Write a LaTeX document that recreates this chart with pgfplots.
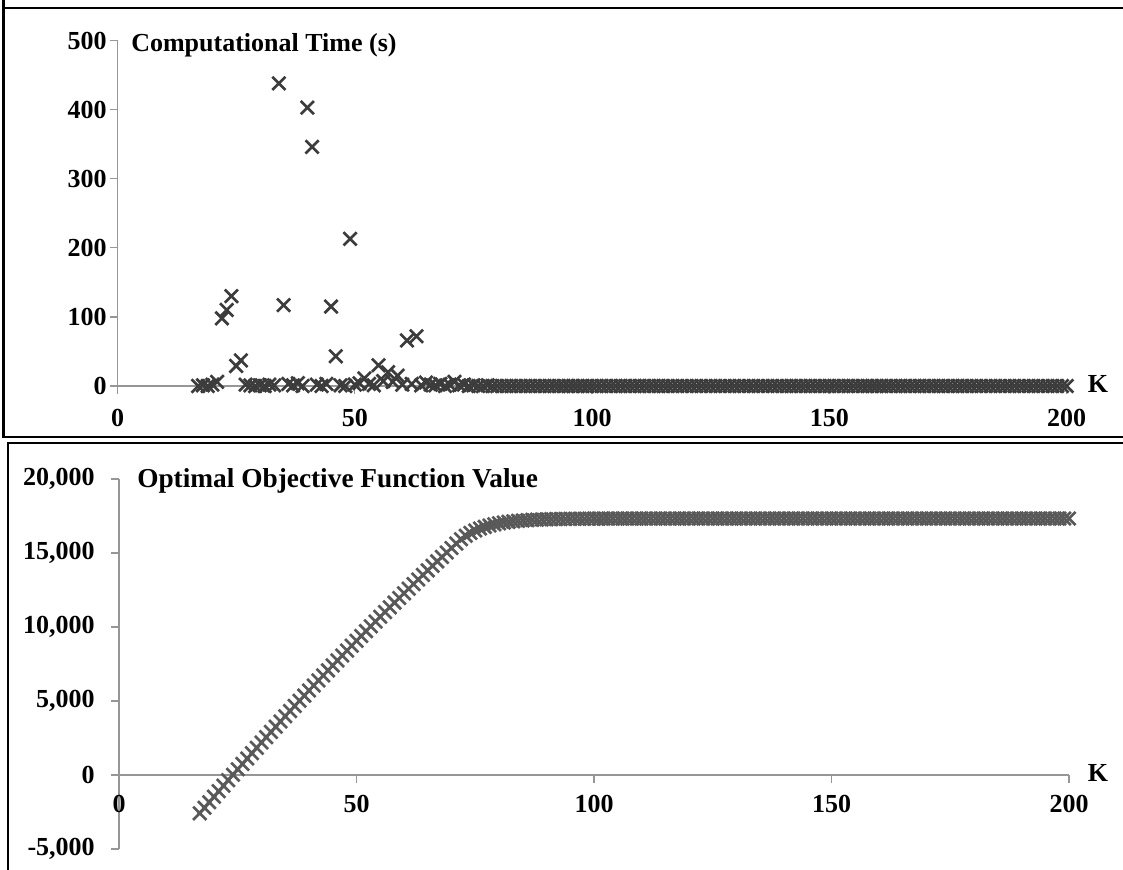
\documentclass[border=0pt]{standalone}
\usepackage{pgfplots}
\pgfplotsset{compat=1.18}
\usepackage{fontspec}
\setmainfont{Liberation Serif}
\definecolor{axisgray}{RGB}{150,150,150}
\definecolor{topmark}{RGB}{60,60,60}
\definecolor{botmark}{RGB}{89,89,89}
\newcommand{\lbl}{\bfseries\fontsize{19.5}{22}\selectfont}
\begin{document}
\begin{tikzpicture}
\useasboundingbox (0,0) rectangle (842.25pt,651.75pt);
\clip (0,0) rectangle (842.25pt,651.75pt);
% frames
\draw[line width=1.8pt] (2.6pt,700pt) -- (2.6pt,324pt) -- (900pt,324pt);
\draw[line width=1.8pt] (2.6pt,645.75pt) -- (900pt,645.75pt);
\draw[line width=1.8pt] (6pt,-20pt) -- (6pt,319.5pt) -- (900pt,319.5pt);
% top axis
\begin{axis}[
  at={(88.125pt,362.25pt)}, anchor=south west,
  scale only axis, width=711.9pt, height=259.1pt,
  xmin=0, xmax=200, ymin=0, ymax=500,
  axis lines=middle, axis line style={-, draw=axisgray, line width=1pt},
  xtick={0,50,100,150,200}, xticklabels={0,50,100,150,200},
  ytick={0,100,200,300,400,500}, yticklabels={0,100,200,300,400,500},
  tick align=outside, major tick length=6pt,
  tick style={draw=axisgray, line width=1pt},
  hide obscured x ticks=false, hide obscured y ticks=false,
  clip=false,
  ticklabel style={font=\lbl},
  xticklabel style={anchor=north, inner sep=0pt, yshift=-11pt},
  yticklabel style={anchor=east, inner sep=0pt, xshift=-2pt},
]
\addplot[only marks, mark=x, mark size=7pt, mark options={draw=topmark, line width=2pt}] table {
17 0
18 1
19 0
20 2
21 6
22 98
23 110
24 130
25 29
26 37
27 2
28 1
29 0
30 1
31 0
32 2
33 1
34 438
35 117
36 3
37 1
38 4
39 0
40 403
41 346
42 2
43 0
44 3
45 115
46 43
47 1
48 0
49 213
50 2
51 4
52 11
53 3
54 1
55 30
56 7
57 20
58 6
59 15
60 2
61 66
62 3
63 72
64 1
65 5
66 2
67 1
68 3
69 0
70 2
71 6
72 1
73 2
74 0
75 1
76 0
77 0
78 1
79 0
80 0
81 0
82 0
83 0
84 0
85 0
86 0
87 0
88 0
89 0
90 0
91 0
92 0
93 0
94 0
95 0
96 0
97 0
98 0
99 0
100 0
101 0
102 0
103 0
104 0
105 0
106 0
107 0
108 0
109 0
110 0
111 0
112 0
113 0
114 0
115 0
116 0
117 0
118 0
119 0
120 0
121 0
122 0
123 0
124 0
125 0
126 0
127 0
128 0
129 0
130 0
131 0
132 0
133 0
134 0
135 0
136 0
137 0
138 0
139 0
140 0
141 0
142 0
143 0
144 0
145 0
146 0
147 0
148 0
149 0
150 0
151 0
152 0
153 0
154 0
155 0
156 0
157 0
158 0
159 0
160 0
161 0
162 0
163 0
164 0
165 0
166 0
167 0
168 0
169 0
170 0
171 0
172 0
173 0
174 0
175 0
176 0
177 0
178 0
179 0
180 0
181 0
182 0
183 0
184 0
185 0
186 0
187 0
188 0
189 0
190 0
191 0
192 0
193 0
194 0
195 0
196 0
197 0
198 0
199 0
200 0
};
\end{axis}
% bottom axis
\begin{axis}[
  at={(89.25pt,15pt)}, anchor=south west,
  scale only axis, width=712.5pt, height=277.5pt,
  xmin=0, xmax=200, ymin=-5000, ymax=20000,
  axis lines=middle, axis line style={-, draw=axisgray, line width=1pt},
  xtick={0,50,100,150,200}, xticklabels={0,50,100,150,200},
  ytick={-5000,0,5000,10000,15000,20000},
  yticklabels={{-5,000},0,{5,000},{10,000},{15,000},{20,000}},
  scaled y ticks=false,
  tick align=outside, major tick length=6pt,
  tick style={draw=axisgray, line width=1pt},
  hide obscured x ticks=false, hide obscured y ticks=false,
  clip=false,
  ticklabel style={font=\lbl},
  xticklabel style={anchor=north, inner sep=0pt, yshift=-9pt},
  yticklabel style={anchor=east, inner sep=0pt, xshift=-12pt},
]
\addplot[only marks, mark=x, mark size=7pt, mark options={draw=botmark, line width=2pt}] table {
17 -2590
18 -2213
19 -1837
20 -1463
21 -1090
22 -719
23 -349
24 19
25 386
26 751
27 1115
28 1477
29 1838
30 2197
31 2555
32 2911
33 3266
34 3619
35 3971
36 4321
37 4670
38 5017
39 5363
40 5707
41 6050
42 6391
43 6731
44 7069
45 7406
46 7741
47 8075
48 8407
49 8738
50 9067
51 9395
52 9721
53 10046
54 10369
55 10691
56 11011
57 11330
58 11647
59 11963
60 12277
61 12590
62 12901
63 13211
64 13519
65 13826
66 14131
67 14435
68 14737
69 15038
70 15337
71 15635
72 15931
73 16164
74 16358
75 16519
76 16654
77 16766
78 16860
79 16938
80 17003
81 17058
82 17103
83 17141
84 17172
85 17198
86 17220
87 17239
88 17254
89 17266
90 17277
91 17286
92 17293
93 17299
94 17304
95 17309
96 17312
97 17315
98 17318
99 17320
100 17322
101 17323
102 17324
103 17324
104 17325
105 17325
106 17326
107 17326
108 17326
109 17327
110 17327
111 17327
112 17327
113 17328
114 17328
115 17328
116 17328
117 17328
118 17328
119 17329
120 17329
121 17329
122 17329
123 17329
124 17329
125 17329
126 17329
127 17329
128 17329
129 17329
130 17330
131 17330
132 17330
133 17330
134 17330
135 17330
136 17330
137 17330
138 17330
139 17330
140 17330
141 17330
142 17330
143 17330
144 17330
145 17330
146 17330
147 17330
148 17330
149 17330
150 17330
151 17330
152 17330
153 17330
154 17330
155 17330
156 17330
157 17330
158 17330
159 17330
160 17330
161 17330
162 17330
163 17330
164 17330
165 17330
166 17330
167 17330
168 17330
169 17330
170 17330
171 17330
172 17330
173 17330
174 17330
175 17330
176 17330
177 17330
178 17330
179 17330
180 17330
181 17330
182 17330
183 17330
184 17330
185 17330
186 17330
187 17330
188 17330
189 17330
190 17330
191 17330
192 17330
193 17330
194 17330
195 17330
196 17330
197 17330
198 17330
199 17330
200 17330
};
\end{axis}
% titles and axis names
\node[anchor=base west, inner sep=0pt, font=\lbl] at (98.25pt,612.9pt) {Computational Time (s)};
\node[anchor=base west, inner sep=0pt, font=\bfseries\fontsize{20.5}{23}\selectfont] at (102.75pt,286.5pt) {Optimal Objective Function Value};
\node[anchor=base, inner sep=0pt, font=\lbl] at (823.5pt,357.75pt) {K};
\node[anchor=base, inner sep=0pt, font=\lbl] at (823.5pt,65.5pt) {K};
\end{tikzpicture}
\end{document}
